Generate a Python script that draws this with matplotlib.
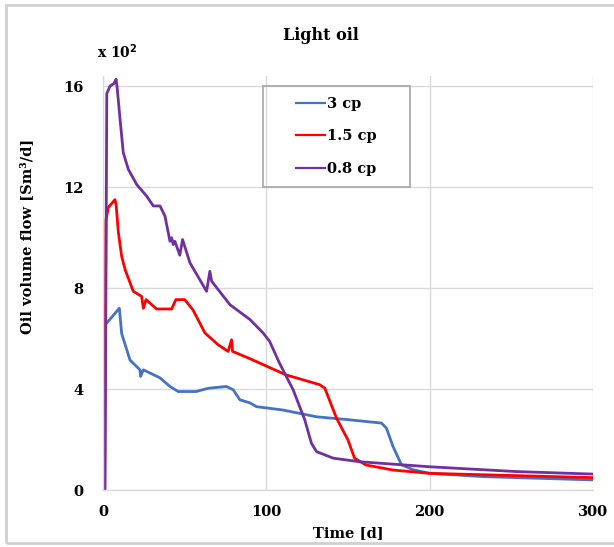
import matplotlib
matplotlib.use("Agg")
import matplotlib.pyplot as plt
from matplotlib.patches import Rectangle

# Oil volume flow (x 10^2 Sm3/d) vs time (d)
t_3cp = [0.5, 0.8, 10, 11.4, 16.5, 22.6, 23, 24.7, 34.9, 41, 46, 57, 64.4, 75.6, 79.7,
         83.8, 90, 94, 110, 130.7, 151, 170.5, 173.5, 177.6, 182.7, 190, 200, 232.6, 300]
q_3cp = [0, 6.5, 7.2, 6.2, 5.15, 4.76, 4.5, 4.76, 4.44, 4.1, 3.9, 3.9, 4.03, 4.1, 3.97,
         3.57, 3.45, 3.3, 3.17, 2.9, 2.78, 2.65, 2.45, 1.72, 1.0, 0.8, 0.66, 0.53, 0.4]

t_15cp = [1.0, 1.8, 3.3, 7.3, 8.0, 9.4, 11.4, 13.5, 18.5, 23.6, 24.7, 26.3, 32.8, 42,
          44.6, 50, 55, 62.4, 70.5, 76.6, 78.7, 79.3, 90, 112, 132.7, 135.8, 143, 150,
          154, 161, 177.6, 200, 300]
q_15cp = [0, 10.7, 11.2, 11.5, 11.3, 10.2, 9.26, 8.73, 7.87, 7.67, 7.2, 7.54, 7.17, 7.17,
          7.54, 7.54, 7.14, 6.22, 5.75, 5.49, 5.95, 5.49, 5.2, 4.56, 4.17, 4.03, 2.84, 1.98,
          1.26, 0.99, 0.79, 0.66, 0.49]

t_08cp = [1.2, 2.3, 4.3, 6.7, 8.0, 8.7, 10.4, 12.4, 15.5, 20.6, 26.7, 30.8, 34.9, 37.9,
          41, 42, 43, 44, 47, 48.7, 53.2, 63.4, 65.4, 66.5, 77.7, 90, 98, 102, 108, 116.4,
          123.5, 127.6, 130.7, 141, 157, 200, 253, 300]
q_08cp = [0, 15.7, 16.0, 16.1, 16.27, 15.9, 14.7, 13.36, 12.7, 12.1, 11.64, 11.25, 11.25,
          10.85, 9.85, 9.99, 9.72, 9.85, 9.3, 9.92, 9.0, 7.87, 8.66, 8.27, 7.34, 6.75, 6.22,
          5.89, 5.03, 3.97, 2.78, 1.85, 1.52, 1.26, 1.12, 0.92, 0.73, 0.63]

plt.rcParams['font.family'] = ['DejaVu Serif']
plt.rcParams['font.weight'] = 'bold'

fig = plt.figure(figsize=(6.14, 5.47), dpi=100)
fig.patches.append(Rectangle((0.01, 0.008), 1.1, 0.983, transform=fig.transFigure,
                             fill=False, edgecolor='#d0d0d0', linewidth=2))
ax = fig.add_axes([0.1678, 0.1042, 0.798, 0.757])

ax.plot(t_3cp, q_3cp, color='#4472c4', lw=2, label='3 cp')
ax.plot(t_15cp, q_15cp, color='#ff0000', lw=2, label='1.5 cp')
ax.plot(t_08cp, q_08cp, color='#7030a0', lw=2, label='0.8 cp')

ax.set_xlim(0, 300)
ax.set_ylim(0, 16.4)
ax.set_xticks([0, 100, 200, 300])
ax.set_yticks([0, 4, 8, 12, 16])
ax.grid(True, color='#d9d9d9', lw=1)
ax.set_axisbelow(True)
for s in ['top', 'right']:
    ax.spines[s].set_visible(False)
for s in ['left', 'bottom']:
    ax.spines[s].set_color('#d9d9d9')
    ax.spines[s].set_linewidth(1)
ax.tick_params(length=0, labelsize=10.5)
ax.tick_params(axis='x', pad=11)
ax.tick_params(axis='y', pad=14)
for lb in ax.get_xticklabels() + ax.get_yticklabels():
    lb.set_fontweight('bold')

fig.text(0.567, 0.026, 'Time [d]', ha='center', va='center', fontsize=10.5, fontweight='bold')
fig.text(0.044, 0.567, 'Oil volume flow [Sm³/d]', ha='center', va='center', rotation=90,
         fontsize=10.5, fontweight='bold')
fig.text(0.522, 0.935, 'Light oil', ha='center', va='center', fontsize=11.5, fontweight='bold')
fig.text(0.158, 0.905, 'x 10$^{2}$', ha='left', va='center', fontsize=10, fontweight='bold')

# legend box is wider than its content, so draw the frame separately
ax.add_patch(Rectangle((0.3265, 0.732), 0.30, 0.244, transform=ax.transAxes, fill=False,
                       edgecolor='#a6a6a6', linewidth=1.2, zorder=5))
leg = ax.legend(loc='center', bbox_to_anchor=(0.4765, 0.854), fontsize=10.5,
                handlelength=2.0, handletextpad=0.15, labelspacing=1.25,
                borderpad=0.0, frameon=False)
for ln in leg.get_lines():
    ln.set_linewidth(1.6)
for txt in leg.get_texts():
    txt.set_fontweight('bold')

fig.savefig('out.png', dpi=100)
